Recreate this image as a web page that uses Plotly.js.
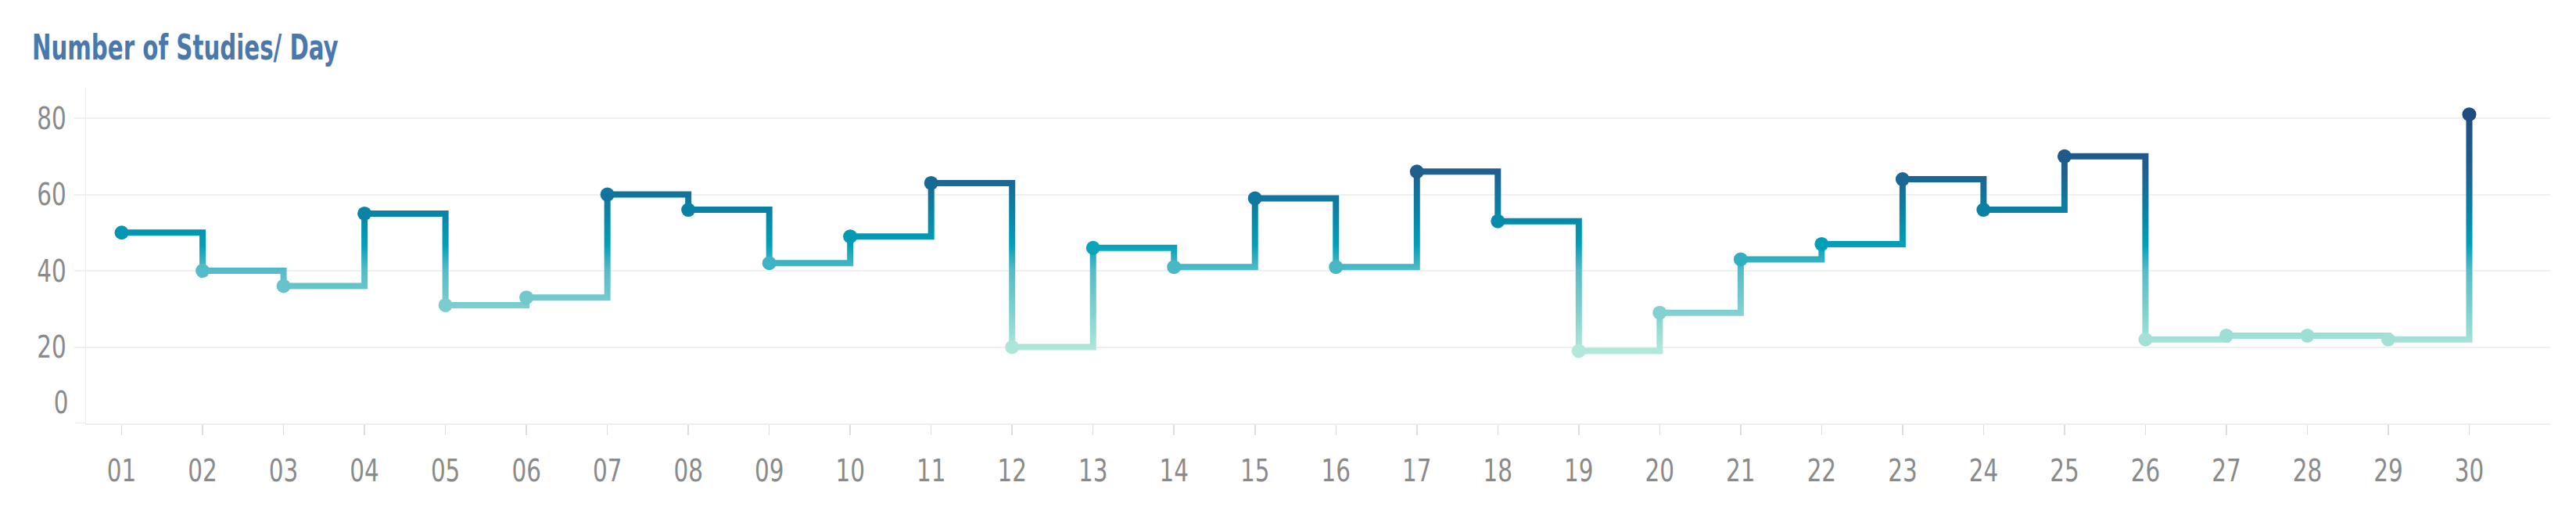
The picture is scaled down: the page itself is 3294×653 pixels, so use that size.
<!DOCTYPE html>
<html>
<head>
<meta charset="utf-8">
<script src="https://cdn.plot.ly/plotly-3.0.1.min.js"></script>
<style>
  html, body { margin: 0; padding: 0; background: #ffffff; }
  #chart { width: 3294px; height: 653px; }
</style>
</head>
<body>
<div id="chart"></div>
<script>
// ---- Data ----
const days = ['01','02','03','04','05','06','07','08','09','10',
              '11','12','13','14','15','16','17','18','19','20',
              '21','22','23','24','25','26','27','28','29','30'];
const studies = [50,40,36,55,31,33,60,56,42,49,
                 63,20,46,41,59,41,66,53,19,29,
                 43,47,64,56,70,22,23,23,22,81];
const yTickValues = [20,40,60,80];
const titleText = 'Number of Studies/ Day';

// ---- Styling / layout constants ----
const W = 3294, H = 653;
const M = {l: 110, r: 33, t: 113, b: 112};
const xRange = [0.56, 31.0];
const yRange = [0, 87.8];
const lineWidthPx = 8;
const colorscale = [
  [0.00, '#b1e8d9'],
  [0.16, '#82d1d0'],
  [0.34, '#56bbc8'],
  [0.45, '#00a0b8'],
  [0.60, '#0a80a4'],
  [0.76, '#1f5f8e'],
  [1.00, '#1f4d82']
];
const fontFamily = "'Liberation Sans Narrow', 'DejaVu Sans Condensed', 'Arial Narrow', Roboto, sans-serif";

const xs = days.map(Number);
const vMin = Math.min(...studies), vMax = Math.max(...studies);

// pixel -> data unit conversions from the layout
const pxPerX = (W - M.l - M.r) / (xRange[1] - xRange[0]);
const pxPerY = (H - M.t - M.b) / (yRange[1] - yRange[0]);
const hx = (lineWidthPx / 2) / pxPerX;
const hy = (lineWidthPx / 2) / pxPerY;

// Build the step path ('hv') as thin rectangles so the vertical risers
// can carry a value-based colour gradient, like the original.
const px = [], py = [];
function rect(x0, x1, y0, y1) {
  px.push(x0, x1, x1, x0, null);
  py.push(y0, y0, y1, y1, null);
}
for (let i = 0; i < xs.length - 1; i++) {
  const v = studies[i], vn = studies[i + 1];
  rect(xs[i] - hx, xs[i + 1] + hx, v - hy, v + hy);
  rect(xs[i + 1] - hx, xs[i + 1] + hx, Math.min(v, vn) - hy, Math.max(v, vn) + hy);
}

const stepTrace = {
  type: 'scatter',
  x: px,
  y: py,
  mode: 'lines',
  line: {width: 0, color: 'rgba(0,0,0,0)'},
  fill: 'toself',
  fillgradient: {
    type: 'vertical',
    colorscale: colorscale,
    start: vMin,
    stop: vMax
  },
  hoverinfo: 'skip',
  showlegend: false
};

const pointTrace = {
  type: 'scatter',
  x: xs,
  y: studies,
  mode: 'markers',
  marker: {
    size: 18,
    color: studies,
    colorscale: colorscale,
    cmin: vMin,
    cmax: vMax,
    showscale: false
  },
  text: days,
  hovertemplate: 'Day %{text}: %{y}<extra></extra>',
  showlegend: false
};

const layout = {
  width: W,
  height: H,
  margin: M,
  paper_bgcolor: '#ffffff',
  plot_bgcolor: '#ffffff',
  font: {family: fontFamily, color: '#8a8a8a', size: 39},
  title: {
    text: titleText,
    font: {family: fontFamily, size: 44, color: '#4a78ad', weight: 'bold'},
    x: 41 / W,
    xanchor: 'left',
    xref: 'container',
    yref: 'container',
    y: 1 - 61 / H,
    yanchor: 'middle'
  },
  xaxis: {
    range: xRange,
    tickmode: 'array',
    tickvals: xs,
    ticktext: days,
    showgrid: false,
    zeroline: false,
    showline: true,
    linecolor: '#eeeeee',
    linewidth: 2,
    ticks: 'outside',
    ticklen: 13,
    tickwidth: 1.5,
    tickcolor: '#dddddd',
    ticklabelstandoff: 12,
    tickfont: {family: fontFamily, size: 39, color: '#8a8a8a'},
    fixedrange: true
  },
  yaxis: {
    range: yRange,
    tickmode: 'array',
    tickvals: yTickValues,
    ticktext: yTickValues.map(String),
    showgrid: true,
    gridcolor: '#f0f0f0',
    gridwidth: 2,
    zeroline: false,
    showline: true,
    linecolor: '#eeeeee',
    linewidth: 1.5,
    ticks: 'outside',
    ticklen: 14,
    tickwidth: 2,
    tickcolor: '#f0f0f0',
    ticklabelstandoff: 2,
    tickfont: {family: fontFamily, size: 39, color: '#8a8a8a'},
    fixedrange: true
  },
  annotations: [{
    text: '0',
    xref: 'paper',
    yref: 'y',
    x: -19 / (W - M.l - M.r),
    y: 5.5,
    xanchor: 'right',
    yanchor: 'middle',
    showarrow: false,
    font: {family: fontFamily, size: 39, color: '#8a8a8a'}
  }],
  shapes: [{
    type: 'line',
    xref: 'paper',
    yref: 'y',
    x0: -14 / (W - M.l - M.r),
    x1: 0,
    y0: 0,
    y1: 0,
    line: {color: '#eeeeee', width: 2}
  }]
};

// Narrow the text horizontally around its own anchor point, to match the
// condensed lettering of the original (text stays real text).
function narrowText(selector, s) {
  document.querySelectorAll(selector).forEach(function (el) {
    const ax = parseFloat(el.getAttribute('x')) || 0;
    const prev = el.getAttribute('transform') || '';
    el.setAttribute('transform',
      (prev + ' translate(' + ax + ',0) scale(' + s + ',1) translate(' + (-ax) + ',0)').trim());
  });
}

Plotly.newPlot('chart', [stepTrace, pointTrace], layout, {displayModeBar: false, staticPlot: true})
  .then(function () {
    narrowText('#chart .gtitle', 0.74);
    narrowText('#chart .xtick text', 0.84);
    narrowText('#chart .ytick text', 0.84);
    narrowText('#chart .annotation-text', 0.84);
  });
</script>
</body>
</html>
